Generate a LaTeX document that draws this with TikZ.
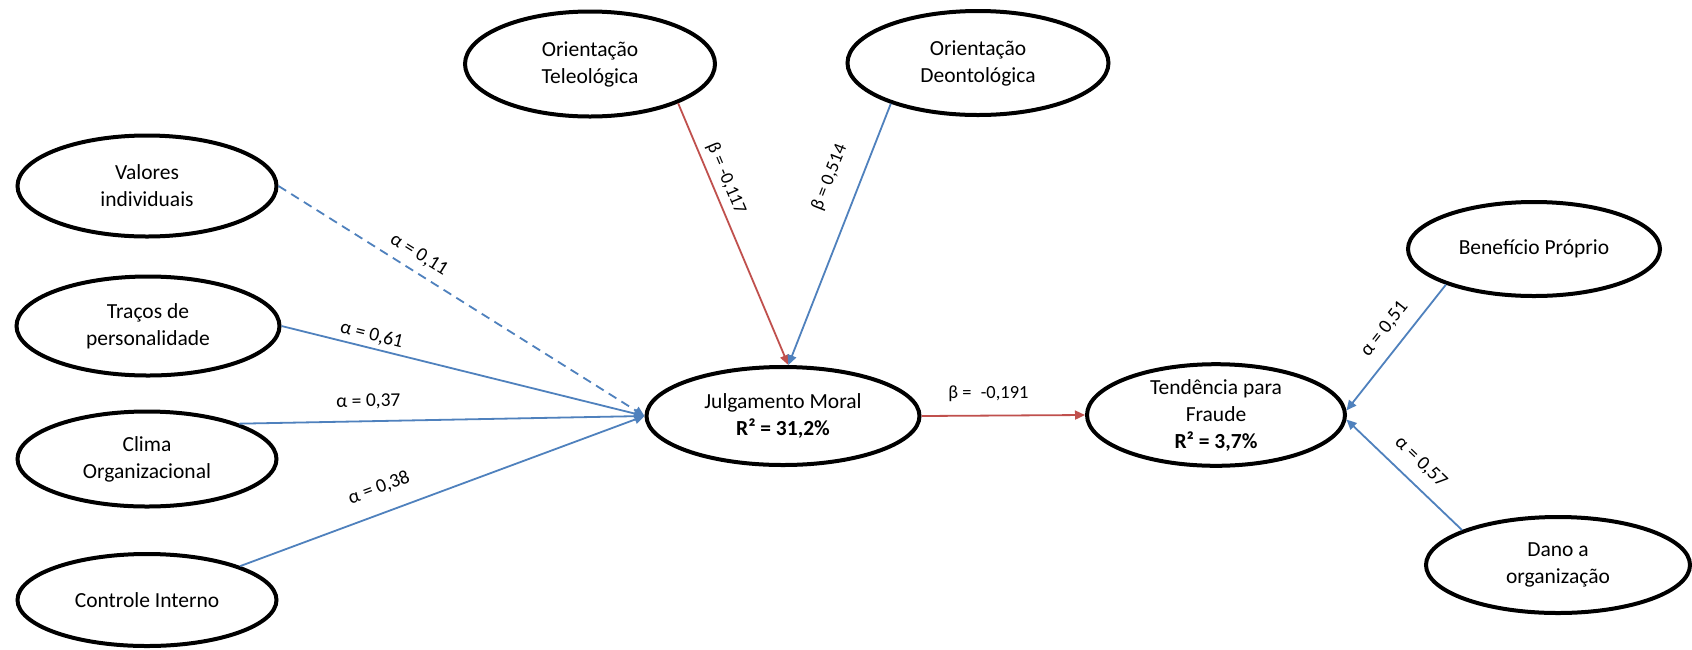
\documentclass[tikz,border=0pt]{standalone}
\usepackage{fontspec}
\setmainfont{Carlito}
\usetikzlibrary{arrows.meta,shapes.geometric}

\definecolor{pathblue}{RGB}{79,129,189}
\definecolor{pathred}{RGB}{192,80,77}

\tikzset{
  construct/.style={ellipse, draw=black, line width=4pt, fill=white, inner sep=0pt,
    align=center, font=\fontsize{21.5}{27}\selectfont},
  link/.style={line width=1.8pt, -{Triangle[length=10pt,width=9pt]}},
  poslink/.style={link, draw=pathblue},
  neglink/.style={link, draw=pathred},
  coef/.style={font=\fontsize{19.5}{23}\selectfont, inner sep=0pt, sloped, anchor=south},
  betacoef/.style={coef, font=\fontsize{18.5}{22}\selectfont},
}

\begin{document}
\begin{tikzpicture}[x=1pt,y=-1pt]
  \fill[white] (0,0) rectangle (1692,649);
  \useasboundingbox (0,0) rectangle (1692,649);

  % antecedents of moral judgement
  \node[construct, minimum width=259pt, minimum height=101pt] (val) at (147,186) {Valores\\individuais};
  \node[construct, minimum width=263pt, minimum height=99pt]  (tra) at (148,326) {Traços de\\personalidade};
  \node[construct, minimum width=259pt, minimum height=95pt]  (cli) at (147,459) {Clima\\Organizacional};
  \node[construct, minimum width=259pt, minimum height=92pt]  (con) at (147,600) {Controle Interno};

  % ethical orientations
  \node[construct, minimum width=250pt, minimum height=105pt] (tel) at (590,64) {Orientação\\Teleológica};
  \node[construct, minimum width=261pt, minimum height=104pt] (deo) at (978,63) {Orientação\\Deontológica};

  % central constructs
  \node[construct, minimum width=273pt, minimum height=98pt]  (jul) at (783,416) {Julgamento Moral\\\textbf{R² = 31,2\%}};
  \node[construct, minimum width=258pt, minimum height=100pt] (ten) at (1216,415) {Tendência para\\Fraude\\\textbf{R² = 3,7\%}};

  % motivations
  \node[construct, minimum width=252pt, minimum height=94pt]  (ben) at (1534,249) {Benefício Próprio};
  \node[construct, minimum width=264pt, minimum height=96pt]  (dan) at (1558,565) {Dano a\\organização};

  % paths into moral judgement
  \draw[poslink, dash pattern=on 9pt off 6pt] (val.east) -- (jul.west)
    node[coef, pos=0.36, outer ysep=9pt] {α = 0,11};
  \draw[poslink] (tra.east) -- (jul.west)
    node[coef, pos=0.24, outer ysep=5pt] {α = 0,61};
  \draw[poslink] (cli.21) -- (jul.west)
    node[coef, pos=0.32, outer ysep=12pt] {α = 0,37};
  \draw[poslink] (con.20) -- (jul.west)
    node[coef, pos=0.365, outer ysep=17pt] {α = 0,38};
  \draw[neglink] (tel.-24) -- (jul.84)
    node[betacoef, pos=0.31, outer ysep=7pt] {β = -0,117};
  \draw[poslink] (deo.-155) -- (jul.84)
    node[betacoef, pos=0.325, outer ysep=22pt] {β = 0,514};

  % moral judgement to fraud tendency
  \draw[neglink] (jul.east) -- (ten.west)
    node[betacoef, pos=0.41, outer ysep=14pt] {β =\enspace-0,191};

  % motivations into fraud tendency
  \draw[poslink] (ben.-158) -- (ten.2)
    node[coef, pos=0.455, outer ysep=13pt] {α = 0,51};
  \draw[poslink] (dan.160) -- (ten.-2)
    node[coef, pos=0.48, outer ysep=13pt] {α = 0,57};
\end{tikzpicture}
\end{document}
